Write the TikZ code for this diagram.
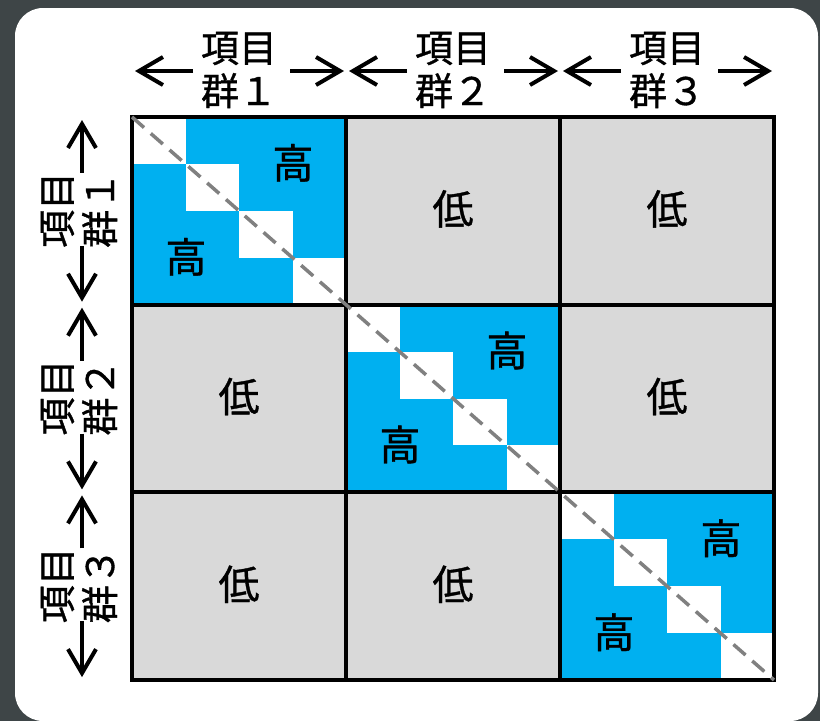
\documentclass[tikz,border=0pt]{standalone}
\usepackage{fontspec}
\setmainfont{Noto Sans CJK JP}[FakeBold=0.9]
\usetikzlibrary{arrows.meta}
\definecolor{bgdark}{RGB}{62,69,71}
\definecolor{cellblue}{RGB}{0,176,240}
\definecolor{cellgray}{RGB}{217,217,217}
\definecolor{diaggray}{RGB}{128,128,128}
\begin{document}
\begin{tikzpicture}[x=1pt,y=-1pt,
  lbl/.style={font=\fontsize{38}{43}\selectfont, align=center, inner sep=0pt},
  celltxt/.style={font=\fontsize{41}{41}\selectfont, inner sep=0pt},
  arr/.style={line width=4pt, -{Straight Barb[length=24pt,width=28pt]}},
  gridline/.style={line width=4pt, black},
  diag/.style={line width=3.5pt, diaggray, dash pattern=on 16pt off 9pt},
]
\useasboundingbox (0,0) rectangle (820,721);
\fill[bgdark] (0,0) rectangle (820,721);
\fill[white, rounded corners=28pt] (15,8) rectangle (818,721);

% cells
\foreach \i in {0,1,2}{
  \foreach \j in {0,1,2}{
    \ifnum\i=\j
      \fill[cellblue] ({132+\i*214},{117+\j*187.7}) rectangle ++(214,187.7);
      \foreach \k in {0,...,3}{
        \fill[white] ({132+\i*214+\k*53.5},{117+\j*187.7+\k*46.925}) rectangle ++(53.5,46.925);
      }
    \else
      \fill[cellgray] ({132+\i*214},{117+\j*187.7}) rectangle ++(214,187.7);
    \fi
  }
}

% grid
\draw[gridline] (132,117) rectangle (774,680);
\foreach \i in {1,2}{
  \draw[gridline] ({132+\i*214},117) -- ({132+\i*214},680);
  \draw[gridline] (132,{117+\i*187.7}) -- (774,{117+\i*187.7});
}

% diagonal
\coordinate (dstart) at (132,117);
\coordinate (dend) at (774,680);
\draw[diag] (dstart) -- (dend);

% cell texts
\foreach \i in {0,1,2}{
  \foreach \j in {0,1,2}{
    \ifnum\i=\j
      \node[celltxt] (hiA\i) at ({132+\i*214+107+54},{117+\j*187.7+93.85-48}) {高};
      \node[celltxt] (hiB\i) at ({132+\i*214+107-53},{117+\j*187.7+93.85+46}) {高};
    \else
      \node[celltxt] (lo\i\j) at ({132+\i*214+107},{117+\j*187.7+93.85-2}) {低};
    \fi
  }
}

% top labels and arrows
\foreach \i/\n in {0/１,1/２,2/３}{
  \node[lbl] (top\i) at ({132+\i*214+107},70) {項目\\群\n};
  \coordinate (tlt\i) at ({132+\i*214+107-46},71);
  \coordinate (tlh\i) at ({132+\i*214+3},71);
  \coordinate (trt\i) at ({132+\i*214+107+51},71);
  \coordinate (trh\i) at ({132+\i*214+214-2},71);
  \draw[arr] (tlt\i) -- (tlh\i);
  \draw[arr] (trt\i) -- (trh\i);
}

% left labels and arrows
\foreach \j/\n in {0/１,1/２,2/３}{
  \node[lbl, rotate=90] (left\j) at (79,{117+\j*187.7+93.85-1}) {項目\\群\n};
  \coordinate (lut\j) at (82,{117+\j*187.7+93.85-38});
  \coordinate (luh\j) at (82,{117+\j*187.7+3});
  \coordinate (ldt\j) at (82,{117+\j*187.7+93.85+35});
  \coordinate (ldh\j) at (82,{117+\j*187.7+187.7-3});
  \draw[arr] (lut\j) -- (luh\j);
  \draw[arr] (ldt\j) -- (ldh\j);
}
\end{tikzpicture}
\end{document}
